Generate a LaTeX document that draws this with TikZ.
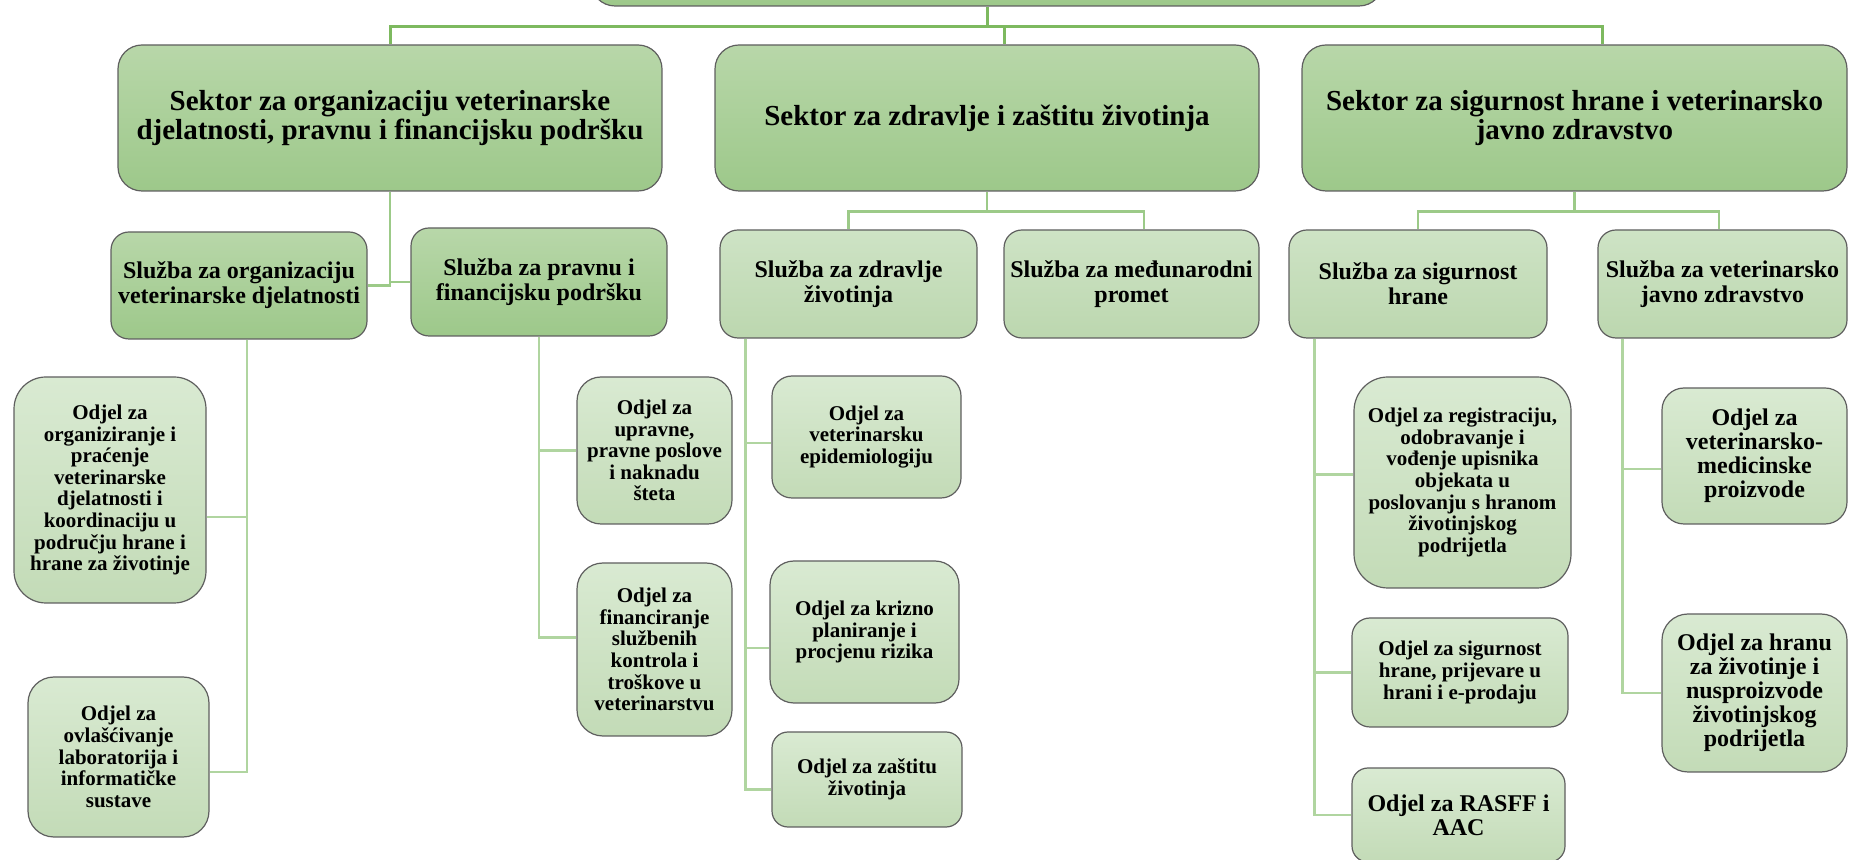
\documentclass[tikz,border=0pt]{standalone}
\usepackage{fontspec}
\setmainfont{Liberation Serif}
\usepackage{tikz}
\definecolor{sektortop}{HTML}{B8D7A9}
\definecolor{sektorbot}{HTML}{9DC88A}
\definecolor{sluzbatop}{HTML}{CEE3C5}
\definecolor{sluzbabot}{HTML}{BCD7AF}
\definecolor{odjeltop}{HTML}{D9EAD2}
\definecolor{odjelbot}{HTML}{C3DBB7}
\definecolor{rub}{HTML}{5F5F5F}
\definecolor{vodtop}{HTML}{7DB95F}
\definecolor{vodmid}{HTML}{9CCA88}
\definecolor{vodlow}{HTML}{B0D5A0}
\tikzset{unit/.style={draw=rub,line width=0.6pt,align=center,inner sep=2pt,text=black},
  sektor/.style={unit,top color=sektortop,bottom color=sektorbot,rounded corners=12pt,
    font=\bfseries\fontsize{14.5}{14.5}\selectfont},
  sluzba/.style={unit,top color=sektortop,bottom color=sektorbot,rounded corners=9pt,
    font=\bfseries\fontsize{12}{12.5}\selectfont},
  sluzbalight/.style={sluzba,top color=sluzbatop,bottom color=sluzbabot},
  odjel/.style={unit,top color=odjeltop,bottom color=odjelbot,
    font=\bfseries\fontsize{10.5}{10.8}\selectfont},
  odjelbig/.style={odjel,font=\bfseries\fontsize{12}{12}\selectfont},
  vod1/.style={draw=vodtop,line width=1.5pt},
  vod2/.style={draw=vodmid,line width=1.3pt},
  vod3/.style={draw=vodlow,line width=1.3pt}}

\begin{document}
\begin{tikzpicture}[x=0.5pt,y=-0.5pt]
            \useasboundingbox (0,0) rectangle (1854,860);
            % ravnateljstvo (only its lower edge is on the page)
            \node[sektor,minimum width=396pt,minimum height=53pt] (top) at (987,-47) {};
            % sektori
            \node[sektor,minimum width=272pt,minimum height=73pt] (s1) at (390,118)
                {Sektor za organizaciju veterinarske\\ djelatnosti, pravnu i financijsku podršku};
            \node[sektor,minimum width=272pt,minimum height=73pt] (s2) at (987,118)
                {Sektor za zdravlje i zaštitu životinja};
            \node[sektor,minimum width=272.5pt,minimum height=73pt] (s3) at (1574.5,118)
                {Sektor za sigurnost hrane i veterinarsko\\ javno zdravstvo};
            % sluzbe
            \node[sluzba,minimum width=128pt,minimum height=53.5pt] (sl1) at (239,285.5)
                {Služba za organizaciju\\ veterinarske djelatnosti};
            \node[sluzba,minimum width=128pt,minimum height=54pt] (sl2) at (539,282)
                {Služba za pravnu i\\ financijsku podršku};
            \node[sluzbalight,minimum width=128.5pt,minimum height=54pt] (sl3) at (848.5,284)
                {Služba za zdravlje\\ životinja};
            \node[sluzbalight,minimum width=127.5pt,minimum height=54pt] (sl4) at (1131.5,284)
                {Služba za međunarodni\\ promet};
            \node[sluzbalight,minimum width=129pt,minimum height=54pt] (sl5) at (1418,284)
                {Služba za sigurnost\\ hrane};
            \node[sluzbalight,minimum width=124.5pt,minimum height=54pt] (sl6) at (1722.5,284)
                {Služba za veterinarsko\\ javno zdravstvo};
            % odjeli
            \node[odjel,rounded corners=16pt,minimum width=96pt,minimum height=113pt] (a1) at (110,490)
                {Odjel za\\ organiziranje i\\ praćenje\\ veterinarske\\ djelatnosti i\\ koordinaciju u\\ području hrane i\\ hrane za životinje};
            \node[odjel,rounded corners=13pt,minimum width=90.5pt,minimum height=80pt] (a2) at (118.5,757)
                {Odjel za\\ ovlašćivanje\\ laboratorija i\\ informatičke\\ sustave};
            \node[odjel,rounded corners=12pt,minimum width=77.5pt,minimum height=73.5pt] (b1) at (654.5,450.5)
                {Odjel za\\ upravne,\\ pravne poslove\\ i naknadu\\ šteta};
            \node[odjel,rounded corners=13pt,minimum width=77.5pt,minimum height=86.5pt] (b2) at (654.5,649.5)
                {Odjel za\\ financiranje\\ službenih\\ kontrola i\\ troškove u\\ veterinarstvu};
            \node[odjel,rounded corners=10pt,minimum width=94.5pt,minimum height=61pt] (c1) at (866.5,437)
                {Odjel za\\ veterinarsku\\ epidemiologiju};
            \node[odjel,rounded corners=12pt,minimum width=94.5pt,minimum height=71pt] (c2) at (864.5,632)
                {Odjel za krizno\\ planiranje i\\ procjenu rizika};
            \node[odjel,rounded corners=8pt,minimum width=95pt,minimum height=47.5pt] (c3) at (867,779.5)
                {Odjel za zaštitu\\ životinja};
            \node[odjel,rounded corners=17pt,minimum width=108.5pt,minimum height=105.5pt] (d1) at (1462.5,482.5)
                {Odjel za registraciju,\\ odobravanje i\\ vođenje upisnika\\ objekata u\\ poslovanju s hranom\\ životinjskog\\ podrijetla};
            \node[odjel,rounded corners=9pt,minimum width=108pt,minimum height=54.5pt] (d2) at (1460,672.5)
                {Odjel za sigurnost\\ hrane, prijevare u\\ hrani i e-prodaju};
            \node[odjelbig,rounded corners=8pt,minimum width=106.5pt,minimum height=47pt] (d3) at (1458.5,815)
                {Odjel za RASFF i\\ AAC};
            \node[odjelbig,rounded corners=11pt,minimum width=92.5pt,minimum height=68pt] (e1) at (1754.5,456)
                {Odjel za\\ veterinarsko-\\ medicinske\\ proizvode};
            \node[odjelbig,rounded corners=13pt,minimum width=92.5pt,minimum height=79pt] (e2) at (1754.5,693)
                {Odjel za hranu\\ za životinje i\\ nusproizvode\\ životinjskog\\ podrijetla};
            % veze
            \draw[vod1] (top.south) -- ++(0,20) -| (s1.north);
            \draw[vod1] (top.south) -- ++(0,20) -| ([xshift=8.5pt]s2.north);
            \draw[vod1] (top.south) -- ++(0,20) -| ([xshift=13.75pt]s3.north);
            \draw[vod2] (s1.south) |- (sl1.east);
            \draw[vod2] (s1.south) |- (sl2.west);
            \draw[vod2] (s2.south) -- ++(0,20) -| (sl3.north);
            \draw[vod2] (s2.south) -- ++(0,20) -| ([xshift=6.25pt]sl4.north);
            \draw[vod2] (s3.south) -- ++(0,20) -| (sl5.north);
            \draw[vod2] (s3.south) -- ++(0,20) -| ([xshift=-1.75pt]sl6.north);
            \draw[vod3] ([xshift=4pt]sl1.south) |- ([yshift=-13.5pt]a1.east);
            \draw[vod3] ([xshift=4pt]sl1.south) |- ([yshift=-7.5pt]a2.east);
            \draw[vod3] (sl2.south) |- (b1.west);
            \draw[vod3] (sl2.south) |- ([yshift=6pt]b2.west);
            \draw[vod3] ([xshift=13pt]sl3.south west) |- ([yshift=-3pt]c1.west);
            \draw[vod3] ([xshift=13pt]sl3.south west) |- ([yshift=-8pt]c2.west);
            \draw[vod3] ([xshift=13pt]sl3.south west) |- ([yshift=-5pt]c3.west);
            \draw[vod3] ([xshift=13pt]sl5.south west) |- ([yshift=4pt]d1.west);
            \draw[vod3] ([xshift=13pt]sl5.south west) |- (d2.west);
            \draw[vod3] ([xshift=13pt]sl5.south west) |- (d3.west);
            \draw[vod3] ([xshift=12.5pt]sl6.south west) |- ([yshift=-6.5pt]e1.west);
            \draw[vod3] ([xshift=12.5pt]sl6.south west) |- (e2.west);
        \end{tikzpicture}
\end{document}
